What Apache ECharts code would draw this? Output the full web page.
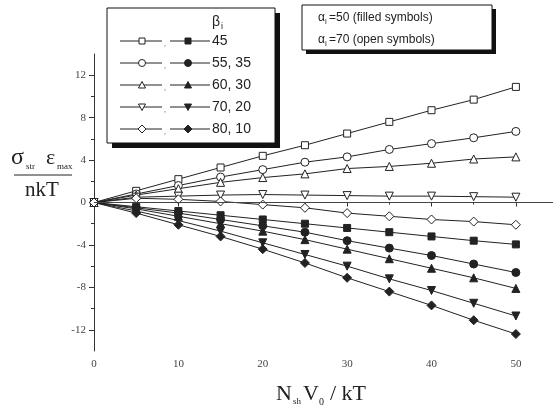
<!DOCTYPE html>
<html>
<head>
<meta charset="utf-8">
<script src="https://cdn.jsdelivr.net/npm/echarts@6/dist/echarts.min.js"></script>
<style>html,body{margin:0;padding:0;background:#fff}#c{width:553px;height:414px}</style>
</head>
<body>
<div id="c"></div>
<script>
// ---- data ----
const xValues = [0, 5, 10, 15, 20, 25, 30, 35, 40, 45, 50];
const betaLabels = ['45', '55, 35', '60, 30', '70, 20', '80, 10'];
// alpha_i = 70 (open symbols)
const open45 = [0, 1.1, 2.2, 3.3, 4.4, 5.4, 6.5, 7.6, 8.7, 9.7, 10.9];
const open55 = [0, 0.8, 1.6, 2.4, 3.1, 3.8, 4.3, 5.0, 5.55, 6.1, 6.7];
const open60 = [0, 0.7, 1.3, 1.9, 2.35, 2.7, 3.2, 3.4, 3.7, 4.1, 4.3];
const open70 = [0, 0.5, 0.6, 0.7, 0.75, 0.7, 0.65, 0.6, 0.6, 0.55, 0.5];
const open80 = [0, 0.4, 0.3, 0.1, -0.2, -0.5, -1.0, -1.3, -1.6, -1.8, -2.1];
// alpha_i = 50 (filled symbols)
const filled45 = [0, -0.4, -0.8, -1.2, -1.6, -2.0, -2.4, -2.8, -3.2, -3.6, -3.95];
const filled55 = [0, -0.5, -1.0, -1.6, -2.2, -2.8, -3.6, -4.3, -5.0, -5.8, -6.6];
const filled60 = [0, -0.6, -1.3, -2.0, -2.7, -3.5, -4.4, -5.3, -6.2, -7.1, -8.1];
const filled70 = [0, -0.8, -1.7, -2.7, -3.8, -4.9, -6.0, -7.2, -8.3, -9.5, -10.7];
const filled80 = [0, -1.0, -2.1, -3.2, -4.4, -5.7, -7.1, -8.4, -9.7, -11.1, -12.4];
const xTickLabels = [0, 10, 20, 30, 40, 50];
const xMinorTicks = [5, 15, 25, 35, 45];
const yTickLabels = [-12, -8, -4, 0, 4, 8, 12];
const yMinorTicks = [-10, -6, -2, 2, 6, 10];

const openSets = [open45, open55, open60, open70, open80];
const filledSets = [filled45, filled55, filled60, filled70, filled80];
const symbols = ['rect', 'circle', 'triangle', 'triangle', 'diamond'];
const rotations = [0, 0, 0, 180, 0];
const sizes = [7, 8, 8, 8, 9];
const INK = '#222';

const series = [];
function mk(arr, k, open) {
  return {
    type: 'line',
    xAxisIndex: 0, yAxisIndex: 0,
    data: xValues.map((x, i) => [x, arr[i]]),
    symbol: symbols[k],
    symbolRotate: rotations[k],
    symbolSize: sizes[k],
    showAllSymbol: true,
    lineStyle: { color: INK, width: 1 },
    itemStyle: open ? { color: '#fff', borderColor: INK, borderWidth: 1 } : { color: INK, borderColor: INK, borderWidth: 1 },
    emphasis: { disabled: true },
    silent: true,
    animation: false,
    z: open ? 3 : 2
  };
}
filledSets.forEach((a, k) => series.push(mk(a, k, false)));
openSets.forEach((a, k) => series.push(mk(a, k, true)));
series[0].markLine = {
  silent: true, symbol: 'none', label: { show: false },
  lineStyle: { color: '#444', width: 1, type: 'solid' },
  data: [{ yAxis: 0 }],
  animation: false
};

const labelFont = { fontFamily: 'Liberation Serif', fontSize: 11, color: '#444' };

// legend graphics
const g = [];
const L = { x: 107, y: 8, w: 168, h: 135 };
g.push({ type: 'rect', shape: { x: L.x + 5, y: L.y + 5, width: L.w, height: L.h }, style: { fill: '#111' }, z: 100 });
g.push({ type: 'rect', shape: { x: L.x, y: L.y, width: L.w, height: L.h }, style: { fill: '#fff', stroke: '#111', lineWidth: 1 }, z: 101 });
g.push({ type: 'text', x: 212, y: 22, style: { text: 'β', font: '14px "Liberation Sans"', fill: '#222', verticalAlign: 'middle' }, z: 102 });
g.push({ type: 'text', x: 221, y: 27, style: { text: 'i', font: '9px "Liberation Sans"', fill: '#222', verticalAlign: 'middle' }, z: 102 });

function symbolShape(k, cx, cy, open) {
  const fill = open ? '#fff' : INK;
  const st = { fill: fill, stroke: INK, lineWidth: 1 };
  const r = 3.5;
  if (k === 0) return { type: 'rect', shape: { x: cx - 3, y: cy - 3, width: 6, height: 6 }, style: st, z: 103 };
  if (k === 1) return { type: 'circle', shape: { cx: cx, cy: cy, r: r }, style: st, z: 103 };
  if (k === 2) return { type: 'polygon', shape: { points: [[cx, cy - 3.5], [cx + 3.5, cy + 3], [cx - 3.5, cy + 3]] }, style: st, z: 103 };
  if (k === 3) return { type: 'polygon', shape: { points: [[cx, cy + 3.5], [cx + 3.5, cy - 3], [cx - 3.5, cy - 3]] }, style: st, z: 103 };
  return { type: 'polygon', shape: { points: [[cx, cy - 4], [cx + 4, cy], [cx, cy + 4], [cx - 4, cy]] }, style: st, z: 103 };
}
const rowY = [41, 63, 85, 107, 129];
betaLabels.forEach((lab, k) => {
  const y = rowY[k];
  g.push({ type: 'line', shape: { x1: 120, y1: y, x2: 162, y2: y }, style: { stroke: INK, lineWidth: 1 }, z: 102 });
  g.push({ type: 'line', shape: { x1: 170, y1: y, x2: 210, y2: y }, style: { stroke: INK, lineWidth: 1 }, z: 102 });
  g.push({ type: 'text', x: 165, y: y + 3, style: { text: ',', font: '9px "Liberation Sans"', fill: '#888', textAlign: 'center', verticalAlign: 'middle' }, z: 102 });
  g.push(symbolShape(k, 142, y, true));
  g.push(symbolShape(k, 188, y, false));
  g.push({ type: 'text', x: 212, y: y, style: { text: lab, font: '14px "Liberation Sans"', fill: '#222', verticalAlign: 'middle' }, z: 102 });
});

// alpha box
const A = { x: 302, y: 5, w: 190, h: 45 };
g.push({ type: 'rect', shape: { x: A.x + 4, y: A.y + 4, width: A.w, height: A.h }, style: { fill: '#111' }, z: 100 });
g.push({ type: 'rect', shape: { x: A.x, y: A.y, width: A.w, height: A.h }, style: { fill: '#fff', stroke: '#111', lineWidth: 1 }, z: 101 });
const alphaLines = [['50 (filled symbols)', 18], ['70 (open symbols)', 40]];
alphaLines.forEach(([t, y]) => {
  g.push({ type: 'text', x: 318, y: y, style: { text: 'α', font: '12px "Liberation Sans"', fill: '#222', verticalAlign: 'middle' }, z: 102 });
  g.push({ type: 'text', x: 325, y: y + 4, style: { text: 'i', font: '8px "Liberation Sans"', fill: '#222', verticalAlign: 'middle' }, z: 102 });
  g.push({ type: 'text', x: 329, y: y, style: { text: '=' + t, font: '12px "Liberation Sans"', fill: '#222', verticalAlign: 'middle' }, z: 102 });
});

// y axis title (fraction)
const serif = '"Liberation Serif"';
g.push({ type: 'text', x: 11, y: 158, style: { text: 'σ', font: '24px ' + serif, fill: '#222', verticalAlign: 'middle' }, z: 50 });
g.push({ type: 'text', x: 26, y: 167, style: { text: 'str', font: '9px ' + serif, fill: '#222', verticalAlign: 'middle' }, z: 50 });
g.push({ type: 'text', x: 46, y: 158, style: { text: 'ε', font: '22px ' + serif, fill: '#222', verticalAlign: 'middle' }, z: 50 });
g.push({ type: 'text', x: 57, y: 167, style: { text: 'max', font: '9px ' + serif, fill: '#222', verticalAlign: 'middle' }, z: 50 });
g.push({ type: 'line', shape: { x1: 14, y1: 175, x2: 72, y2: 175 }, style: { stroke: '#222', lineWidth: 1 }, z: 50 });
g.push({ type: 'text', x: 42, y: 190, style: { text: 'nkT', font: '21px ' + serif, fill: '#222', textAlign: 'center', verticalAlign: 'middle' }, z: 50 });

// x axis title
g.push({ type: 'text', x: 276, y: 394, style: { text: 'N', font: '22px ' + serif, fill: '#222', verticalAlign: 'middle' }, z: 50 });
g.push({ type: 'text', x: 293, y: 402, style: { text: 'sh', font: '9px ' + serif, fill: '#222', verticalAlign: 'middle' }, z: 50 });
g.push({ type: 'text', x: 303, y: 394, style: { text: 'V', font: '22px ' + serif, fill: '#222', verticalAlign: 'middle' }, z: 50 });
g.push({ type: 'text', x: 319, y: 402, style: { text: '0', font: '10px ' + serif, fill: '#222', verticalAlign: 'middle' }, z: 50 });
g.push({ type: 'text', x: 330, y: 394, style: { text: '/ kT', font: '22px ' + serif, fill: '#222', verticalAlign: 'middle' }, z: 50 });

const chart = echarts.init(document.getElementById('c'), null, { renderer: 'canvas' });
chart.setOption({
  animation: false,
  backgroundColor: '#fff',
  grid: { left: 94, right: 0, top: 54, bottom: 63, containLabel: false },
  xAxis: [{
    type: 'value', min: 0, max: 54.4, interval: 10,
    axisLine: { show: true, lineStyle: { color: '#333', width: 1 } },
    axisTick: { show: true, customValues: xTickLabels, length: 4, inside: false, lineStyle: { color: '#333' } },
    axisLabel: Object.assign({ customValues: xTickLabels, margin: 8 }, labelFont),
    splitLine: { show: false }
  }, {
    type: 'value', min: 0, max: 54.4, position: 'bottom',
    axisLine: { show: false },
    axisTick: { show: true, customValues: xMinorTicks, length: 2, lineStyle: { color: '#333' } },
    axisLabel: { show: false },
    splitLine: { show: false }
  }],
  yAxis: [{
    type: 'value', min: -14, max: 14, interval: 2,
    axisLine: { show: true, lineStyle: { color: '#333', width: 1 } },
    axisTick: { show: true, customValues: yTickLabels, length: 5, lineStyle: { color: '#333' } },
    axisLabel: Object.assign({ customValues: yTickLabels, margin: 8 }, labelFont),
    splitLine: { show: false }
  }, {
    type: 'value', min: -14, max: 14, position: 'left',
    axisLine: { show: false },
    axisTick: { show: true, customValues: yMinorTicks, length: 3, lineStyle: { color: '#333' } },
    axisLabel: { show: false },
    splitLine: { show: false }
  }],
  series: series,
  graphic: g
});
</script>
</body>
</html>
